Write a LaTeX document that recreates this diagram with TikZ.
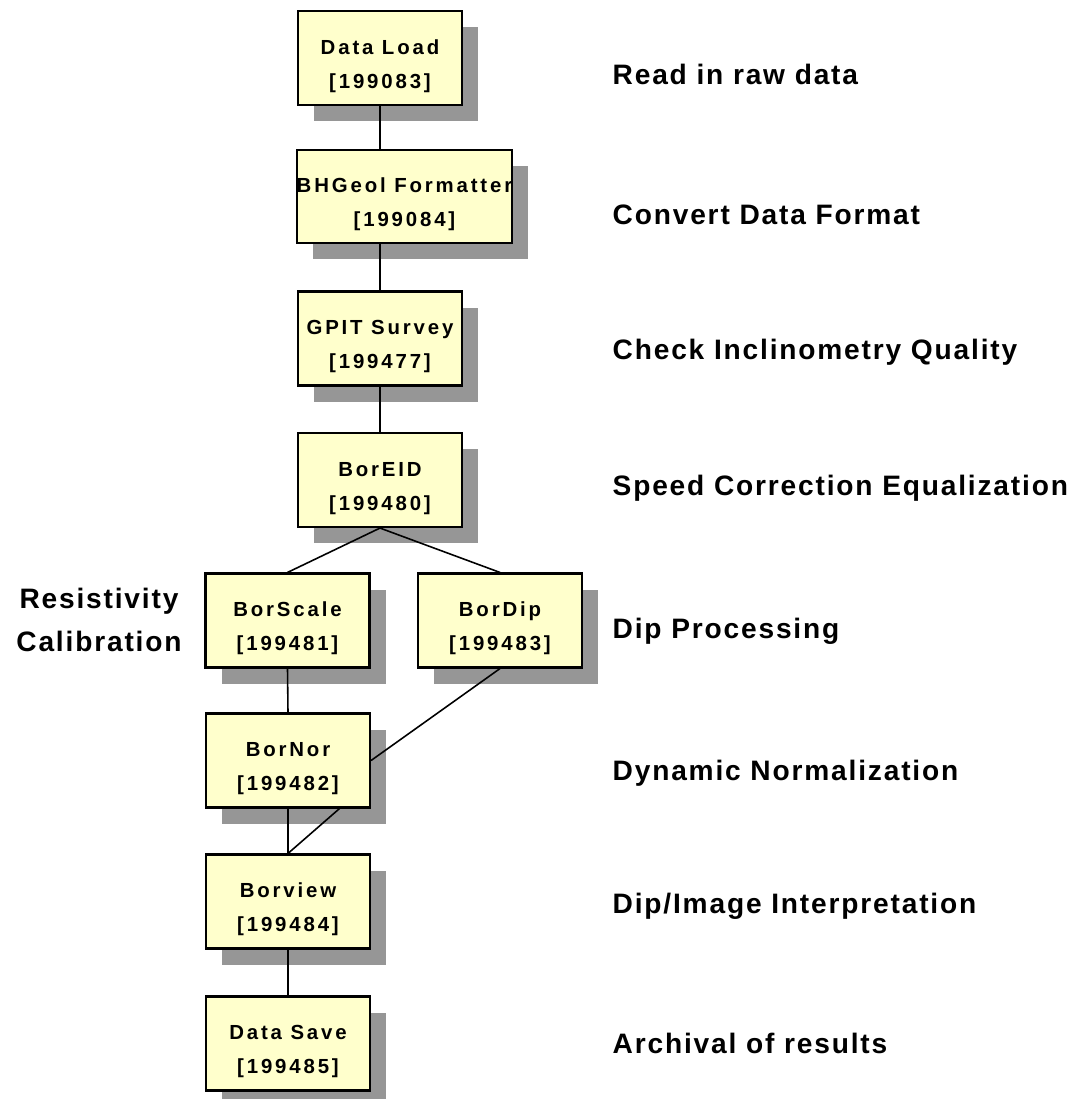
\documentclass[tikz,border=0pt]{standalone}
\usepackage{fontspec}
\setmainfont{Liberation Sans}
\newfontfamily\boxfam[LetterSpace=14]{Liberation Sans}
\newfontfamily\labelfam[LetterSpace=6.5]{Liberation Sans}
\usetikzlibrary{shadows, calc}
\definecolor{boxyellow}{RGB}{255,255,204}
\definecolor{shadowgray}{RGB}{150,150,150}
% box text: name and job number
\newcommand{\stagetext}[2]{\rule{0pt}{8.8pt}#1\\{}[#2]}

\begin{document}
\begin{tikzpicture}[
  stagebox/.style={draw=black, line width=0.6pt, fill=boxyellow,
    minimum width=1.64cm, minimum height=0.94cm, inner sep=0pt, align=center,
    font=\boxfam\bfseries\fontsize{5.8}{9.7}\selectfont,
    drop shadow={shadow xshift=0.16cm, shadow yshift=-0.16cm, fill=shadowgray, opacity=1}},
  tasklabel/.style={anchor=base west, inner sep=0pt, font=\labelfam\bfseries\fontsize{8}{12}\selectfont},
  link/.style={line width=0.45pt}]
  \useasboundingbox (0,0) rectangle (10.77,-10.99);
  % Processing chain boxes
  \node[stagebox] (load) at (3.80,-0.58) {\stagetext{Data Load}{199083}};
  \node[stagebox, minimum width=2.13cm, minimum height=0.93cm] (fmt) at (4.045,-1.965) {\stagetext{BHGeol Formatter}{199084}};
  \node[stagebox] (survey) at (3.80,-3.385) {\stagetext{GPIT Survey}{199477}};
  \node[stagebox] (eid) at (3.80,-4.80) {\stagetext{BorEID}{199480}};
  \node[stagebox] (scale) at (2.875,-6.205) {\stagetext{BorScale}{199481}};
  \node[stagebox] (dip) at (5.00,-6.205) {\stagetext{BorDip}{199483}};
  \node[stagebox] (nor) at (2.88,-7.605) {\stagetext{BorNor}{199482}};
  \node[stagebox] (view) at (2.88,-9.015) {\stagetext{Borview}{199484}};
  \node[stagebox] (save) at (2.88,-10.435) {\stagetext{Data Save}{199485}};
  % Connectors
  \draw[link] (load.south) -- (load.south |- fmt.north);
  \draw[link] (survey.north |- fmt.south) -- (survey.north);
  \draw[link] (survey.south) -- (eid.north);
  \draw[link] (eid.south) -- (scale.north);
  \draw[link] (eid.south) -- (dip.north);
  \draw[link] (scale.south) -- (nor.north);
  \draw[link] (dip.south) -- (nor.east);
  \draw[link] (nor.south) -- (view.north);
  \draw[link] ($(nor.south)!0.62!(nor.south east)$) -- (view.north);
  \draw[link] (view.south) -- (save.north);
  % Step descriptions
  \node[tasklabel] (t1) at (6.12,-0.84) {Read in raw data};
  \node[tasklabel] (t2) at (6.12,-2.24) {Convert Data Format};
  \node[tasklabel] (t3) at (6.12,-3.59) {Check Inclinometry Quality};
  \node[tasklabel] (t4) at (6.12,-4.95) {Speed Correction Equalization};
  \node[tasklabel] (t5) at (6.12,-6.38) {Dip Processing};
  \node[tasklabel] (t6) at (6.12,-7.80) {Dynamic Normalization};
  \node[tasklabel] (t7) at (6.12,-9.13) {Dip/Image Interpretation};
  \node[tasklabel] (t8) at (6.12,-10.53) {Archival of results};
  \node[align=center, font=\labelfam\bfseries\fontsize{8}{12}\selectfont] (t9) at (0.99,-6.20) {Resistivity\\Calibration};
\end{tikzpicture}
\end{document}
